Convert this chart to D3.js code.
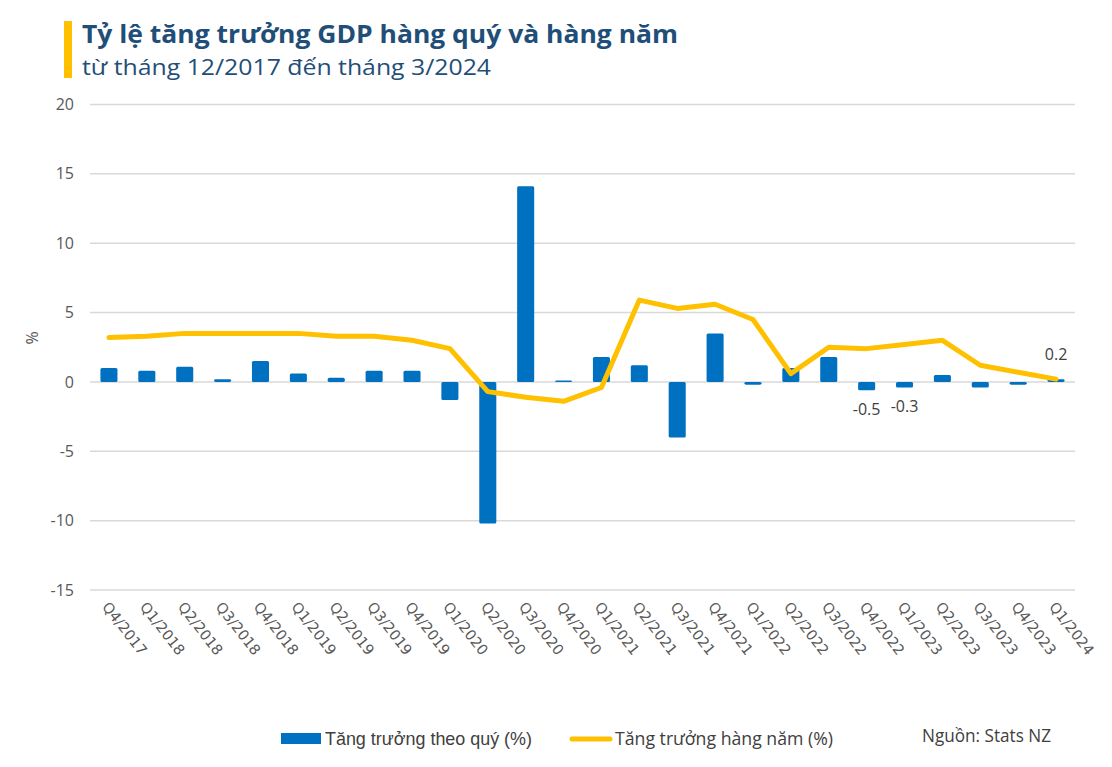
<!DOCTYPE html>
<html><head><meta charset="utf-8">
<script src="https://cdn.jsdelivr.net/npm/d3@7/dist/d3.min.js"></script>
<style>body{margin:0;background:#fff}svg{display:block}</style>
</head><body>
<svg id="c" width="1112" height="767"></svg>
<script>
const categories = ["Q4/2017","Q1/2018","Q2/2018","Q3/2018","Q4/2018","Q1/2019","Q2/2019","Q3/2019","Q4/2019","Q1/2020","Q2/2020","Q3/2020","Q4/2020","Q1/2021","Q2/2021","Q3/2021","Q4/2021","Q1/2022","Q2/2022","Q3/2022","Q4/2022","Q1/2023","Q2/2023","Q3/2023","Q4/2023","Q1/2024"];
const quarterly = [1.0,0.8,1.1,0.2,1.5,0.6,0.3,0.8,0.8,-1.3,-10.2,14.1,0.1,1.8,1.2,-4.0,3.5,-0.2,1.0,1.8,-0.6,-0.4,0.5,-0.4,-0.2,0.2];
const annual = [3.2,3.3,3.5,3.5,3.5,3.5,3.3,3.3,3.0,2.4,-0.7,-1.1,-1.4,-0.4,5.9,5.3,5.6,4.5,0.6,2.5,2.4,2.7,3.0,1.2,0.7,0.2];
const yTicks = [-15,-10,-5,0,5,10,15,20];
const dataLabels = [{i:20,text:"-0.5",pos:"below"},{i:21,text:"-0.3",pos:"below"},{i:25,text:"0.2",pos:"above"}];
const legendItems = ["Tăng trưởng theo quý (%)","Tăng trưởng hàng năm (%)"];
const titleText = "Tỷ lệ tăng trưởng GDP hàng quý và hàng năm";
const subtitleText = "từ tháng 12/2017 đến tháng 3/2024";
const sourceText = "Nguồn: Stats NZ";

const svg = d3.select("#c");
const font = "'Open Sans', 'Noto Sans', sans-serif";
const x = d3.scaleBand().domain(categories).range([90,1075]).paddingInner(0.55).paddingOuter(0.275);
const y = d3.scaleLinear().domain([-15,20]).range([590,104.5]);

// title
svg.append("rect").attr("x",64).attr("y",21).attr("width",8).attr("height",57).attr("fill","#ffc000");
svg.append("text").attr("x",82).attr("y",43).attr("font-family",font).attr("font-weight","bold")
  .attr("font-size",25).attr("fill","#1f4e79").attr("textLength",596).attr("lengthAdjust","spacingAndGlyphs").text(titleText);
svg.append("text").attr("x",82).attr("y",75).attr("font-family",font)
  .attr("font-size",21.5).attr("fill","#1f4e79").attr("textLength",409).attr("lengthAdjust","spacingAndGlyphs").text(subtitleText);

// grid
svg.append("g").selectAll("line").data(yTicks).join("line")
  .attr("x1",90).attr("x2",1075).attr("y1",d=>y(d)).attr("y2",d=>y(d))
  .attr("stroke","#d9d9d9").attr("stroke-width",1.5);
const yAxis = d3.axisLeft(y).tickValues(yTicks).tickSize(0).tickPadding(0);
const ga = svg.append("g").attr("transform","translate(74,0)").call(yAxis);
ga.select(".domain").remove();
ga.selectAll("text").attr("font-family",font).attr("font-size",16).attr("fill","#595959").text(d=>String(d));
svg.append("text").attr("transform","translate(38,338) rotate(-90)").attr("text-anchor","middle")
  .attr("font-family",font).attr("font-size",16).attr("fill","#595959").text("%");

// bars
svg.append("g").selectAll("rect").data(quarterly).join("rect")
  .attr("x",(d,i)=>x(categories[i])).attr("width",x.bandwidth())
  .attr("y",d=>y(Math.max(0,d))).attr("height",d=>Math.abs(y(d)-y(0)))
  .attr("rx",1.5).attr("fill","#0070c0");

// line
const line = d3.line().x((d,i)=>x(categories[i])+x.bandwidth()/2).y(d=>y(d));
svg.append("path").datum(annual).attr("d",line).attr("fill","none")
  .attr("stroke","#ffc000").attr("stroke-width",5).attr("stroke-linejoin","round").attr("stroke-linecap","round");

// data labels
svg.append("g").selectAll("text").data(dataLabels).join("text")
  .attr("x",d=>x(categories[d.i])+x.bandwidth()/2)
  .attr("y",d=>d.pos==="below"? y(quarterly[d.i])+25 : y(quarterly[d.i])-19)
  .attr("text-anchor","middle").attr("font-family",font).attr("font-size",16).attr("fill","#404040")
  .text(d=>d.text);

// x labels
const gx = svg.append("g");
gx.selectAll("text").data(categories).join("text")
  .attr("transform",d=>`translate(${x(d)+1},${607}) rotate(52)`)
  .attr("font-family","'DejaVu Sans', sans-serif").attr("font-size",14.5).attr("fill","#595959").text(d=>d);

// legend
svg.append("rect").attr("x",281).attr("y",733).attr("width",40).attr("height",11).attr("fill","#0070c0");
svg.append("text").attr("x",325).attr("y",745).attr("font-family","'Liberation Sans', Arial, sans-serif").attr("font-size",19)
  .attr("fill","#404040").attr("textLength",207).attr("lengthAdjust","spacingAndGlyphs").text(legendItems[0]);
svg.append("line").attr("x1",572).attr("x2",610).attr("y1",739).attr("y2",739).attr("stroke","#ffc000").attr("stroke-width",5).attr("stroke-linecap","round");
svg.append("text").attr("x",615).attr("y",745).attr("font-family",font).attr("font-size",18)
  .attr("fill","#404040").attr("textLength",218).attr("lengthAdjust","spacingAndGlyphs").text(legendItems[1]);
svg.append("text").attr("x",922).attr("y",742).attr("font-family",font).attr("font-size",17.5)
  .attr("fill","#404040").attr("textLength",129).attr("lengthAdjust","spacingAndGlyphs").text(sourceText);
</script>
</body></html>
